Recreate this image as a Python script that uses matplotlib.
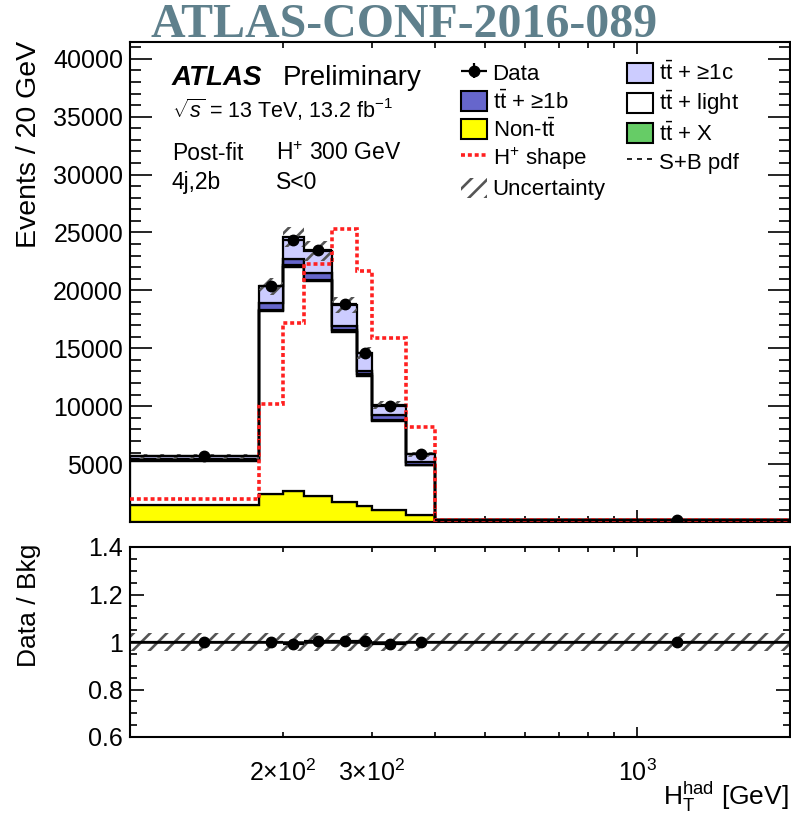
import numpy as np
import matplotlib
matplotlib.use("Agg")
import matplotlib.pyplot as plt
from matplotlib.patches import Patch, Rectangle
from matplotlib.lines import Line2D
from matplotlib.container import ErrorbarContainer
from matplotlib.legend_handler import HandlerPatch, HandlerErrorbar
from matplotlib.ticker import (FixedLocator, FixedFormatter, MultipleLocator,
                               FuncFormatter, NullFormatter)

plt.rcParams["font.family"] = ["Liberation Sans", "DejaVu Sans"]
plt.rcParams["mathtext.fontset"] = "custom"
plt.rcParams["mathtext.rm"] = "Liberation Sans"
plt.rcParams["mathtext.it"] = "Liberation Sans:italic"
plt.rcParams["mathtext.bf"] = "Liberation Sans:bold"
plt.rcParams["hatch.linewidth"] = 1.9

# HT(had) bin edges [GeV]
bin_edges = [100, 180, 200, 220, 250, 280, 300, 350, 400, 2000]

# Post-fit yields (events / 20 GeV), stacked bottom to top
non_tt = [1430, 2450, 2660, 2230, 1770, 1340, 1050, 620, 30]
tt_light = [3840, 15750, 19340, 18540, 14650, 11300, 7710, 4280, 130]
tt_x = [60, 150, 180, 170, 140, 110, 80, 50, 3]
tt_1b = [150, 550, 490, 570, 340, 290, 370, 220, 12]
tt_1c = [180, 1460, 1920, 1890, 1840, 1520, 890, 680, 25]
data = [5660, 20360, 24340, 23470, 18800, 14600, 10000, 5840, 200]
hplus_shape = [2000, 10200, 17200, 22300, 25300, 21700, 15900, 8200, 150]
rel_unc = [0.036, 0.036, 0.036, 0.036, 0.036, 0.036, 0.036, 0.036, 0.036]

ratio_ticks = [0.6, 0.8, 1.0, 1.2, 1.4]
ratio_tick_labels = ["0.6", "0.8", "1", "1.2", "1.4"]

W, H = 791, 815
HATCH_COL = "#555555"


def fx(x):
    return x / W


def fy(y):
    return 1 - y / H


fig = plt.figure(figsize=(W / 100, H / 100), dpi=100)
ax = fig.add_axes([fx(130), fy(522), fx(790) - fx(130), fy(42) - fy(522)])
rax = fig.add_axes([fx(130), fy(737), fx(790) - fx(130), fy(547) - fy(737)])

edges = np.array(bin_edges, dtype=float)
centers = 0.5 * (edges[:-1] + edges[1:])
xerr = [centers - edges[:-1], edges[1:] - centers]

# Stacked backgrounds
layers = [
    (non_tt, "#ffff00"),
    (tt_light, "#ffffff"),
    (tt_x, "#66cc66"),
    (tt_1b, "#6666cc"),
    (tt_1c, "#ccccff"),
]
base = np.zeros(len(centers))
for vals, col in layers:
    top = base + np.array(vals, dtype=float)
    ax.stairs(top, edges, baseline=base, fill=True, facecolor=col,
              edgecolor="black", linewidth=1.6, zorder=2)
    base = top
total = base

unc = total * np.array(rel_unc)
ax.stairs(total + unc, edges, baseline=total - unc, fill=True,
          facecolor="none", edgecolor=HATCH_COL, hatch="//",
          linewidth=0, zorder=3)

ax.stairs(hplus_shape, edges, baseline=None, color="#ff2020", linewidth=2.6,
          linestyle=(0, (1.1, 0.8)), zorder=4)
ax.stairs(total, edges, baseline=None, color="black", linewidth=1.2,
          linestyle=(0, (3, 3)), zorder=4)

ax.errorbar(centers, data, xerr=xerr, fmt="o", color="black", ms=7.5,
            elinewidth=1.6, capsize=0, zorder=5)

# Ratio panel
ratio = np.array(data, dtype=float) / total
rel = np.array(rel_unc)
rax.stairs(1 + rel, edges, baseline=1 - rel, fill=True, facecolor="none",
           edgecolor=HATCH_COL, hatch="//", linewidth=0, zorder=2)
rax.axhline(1.0, color="black", linewidth=1.8, zorder=3)
rax.errorbar(centers, ratio, xerr=xerr, fmt="o", color="black", ms=7.5,
             elinewidth=1.6, capsize=0, zorder=5)

# Axes styling
for a in (ax, rax):
    a.set_xscale("log")
    a.set_xlim(100, 2000)
    a.tick_params(which="both", direction="in", top=True, right=True,
                  width=1.2, labelsize=18)
    for s in a.spines.values():
        s.set_linewidth(1.5)
    a.xaxis.set_major_locator(FixedLocator([100, 1000]))
    a.xaxis.set_minor_locator(FixedLocator([200, 300, 400, 500, 600, 700,
                                            800, 900, 2000]))

ax.xaxis.set_major_formatter(NullFormatter())
ax.xaxis.set_minor_formatter(NullFormatter())
ax.tick_params(axis="x", which="major", length=8.5)
ax.tick_params(axis="x", which="minor", length=4.3)
ax.set_ylim(0, 41450)
ax.yaxis.set_major_locator(MultipleLocator(5000))
ax.yaxis.set_minor_locator(MultipleLocator(1000))
ax.yaxis.set_major_formatter(FuncFormatter(lambda v, p: "" if v == 0 else f"{int(v)}"))
ax.tick_params(axis="y", which="major", length=16, pad=5)
ax.tick_params(axis="y", which="minor", length=8)

rax.set_ylim(0.6, 1.4)
rax.yaxis.set_major_locator(FixedLocator(ratio_ticks))
rax.yaxis.set_major_formatter(FixedFormatter(ratio_tick_labels))
rax.yaxis.set_minor_locator(MultipleLocator(0.05))
rax.tick_params(axis="y", which="major", length=10, pad=5)
rax.tick_params(axis="y", which="minor", length=5)
rax.xaxis.set_major_formatter(FixedFormatter(["", r"10$^{3}$"]))
rax.xaxis.set_minor_formatter(FixedFormatter(
    [r"2×10$^{2}$", r"3×10$^{2}$", "", "", "", "", "", "", ""]))
rax.tick_params(axis="x", which="major", length=7, pad=16)
rax.tick_params(axis="x", which="minor", length=3.6, pad=16)

# Axis titles
fig.text(fx(29), fy(41), "Events / 20 GeV", rotation=90, ha="center",
         va="top", fontsize=20.5)
fig.text(fx(29), fy(544), "Data / Bkg", rotation=90, ha="center",
         va="top", fontsize=19)
fig.text(fx(789), fy(797), r"$\mathrm{H_{T}^{had}}$ [GeV]", ha="right",
         va="center", fontsize=19)

# Document tag
fig.text(fx(404), fy(37), "ATLAS-CONF-2016-089", ha="center", va="baseline",
         fontsize=34.5, fontweight="bold", family="Liberation Serif",
         color="#5f808c")

# Labels inside the plot
fig.text(fx(172), fy(85), "ATLAS", fontsize=20, fontweight="bold",
         fontstyle="italic", va="baseline")
fig.text(fx(283), fy(85), "Preliminary", fontsize=20, va="baseline")
fig.text(fx(172), fy(118), r"$\sqrt{s}$ = 13 TeV, 13.2 fb$^{-1}$",
         fontsize=15.5, va="baseline")
fig.text(fx(172), fy(160), "Post-fit", fontsize=16.5, va="baseline")
fig.text(fx(276), fy(160), r"H$^{+}$ 300 GeV", fontsize=16.5, va="baseline")
fig.text(fx(172), fy(189), "4j,2b", fontsize=16.5, va="baseline")
fig.text(fx(276), fy(189), "S<0", fontsize=16.5, va="baseline")

# Legend
def small_box(legend, orig_handle, xdescent, ydescent, width, height, fontsize):
    h = 0.9 * fontsize
    return Rectangle((-xdescent, -ydescent + (height - h) / 2), width, h)


data_proxy = ax.errorbar([np.nan], [np.nan], xerr=[[1], [1]], yerr=[[1], [1]],
                         fmt="o", color="black", ms=7.5, elinewidth=1.6,
                         capsize=0)
h_1b = Patch(facecolor="#6666cc", edgecolor="black", linewidth=1.5)
h_non = Patch(facecolor="#ffff00", edgecolor="black", linewidth=1.5)
h_hp = Line2D([], [], color="#ff2020", linewidth=2.6, linestyle=(0, (1.1, 0.8)))
h_unc = Patch(facecolor="none", edgecolor=HATCH_COL, hatch="//", linewidth=0)
h_1c = Patch(facecolor="#ccccff", edgecolor="black", linewidth=1.5)
h_light = Patch(facecolor="#ffffff", edgecolor="black", linewidth=1.5)
h_x = Patch(facecolor="#66cc66", edgecolor="black", linewidth=1.5)
h_sb = Line2D([], [], color="black", linewidth=1.2, linestyle=(0, (3, 3)))

hmap = {Patch: HandlerPatch(patch_func=small_box),
        ErrorbarContainer: HandlerErrorbar(xerr_size=0.6, yerr_size=0.34)}
common = dict(frameon=False, fontsize=16, borderpad=0, borderaxespad=0,
              handlelength=1.17, handleheight=1.28, labelspacing=0.17,
              handletextpad=0.25, loc="upper left",
              bbox_transform=fig.transFigure, handler_map=hmap)

leg1 = ax.legend([data_proxy, h_1b, h_non, h_hp, h_unc],
                 ["Data", r"$\mathrm{t\bar{t}}$ + ≥1b", r"Non-$\mathrm{t\bar{t}}$",
                  r"H$^{+}$ shape", "Uncertainty"],
                 bbox_to_anchor=(fx(461), fy(61)), **common)
ax.add_artist(leg1)
ax.legend([h_1c, h_light, h_x, h_sb],
          [r"$\mathrm{t\bar{t}}$ + ≥1c", r"$\mathrm{t\bar{t}}$ + light",
           r"$\mathrm{t\bar{t}}$ + X", "S+B pdf"],
          bbox_to_anchor=(fx(627), fy(61)), **common)

fig.savefig("out.png", dpi=100)
